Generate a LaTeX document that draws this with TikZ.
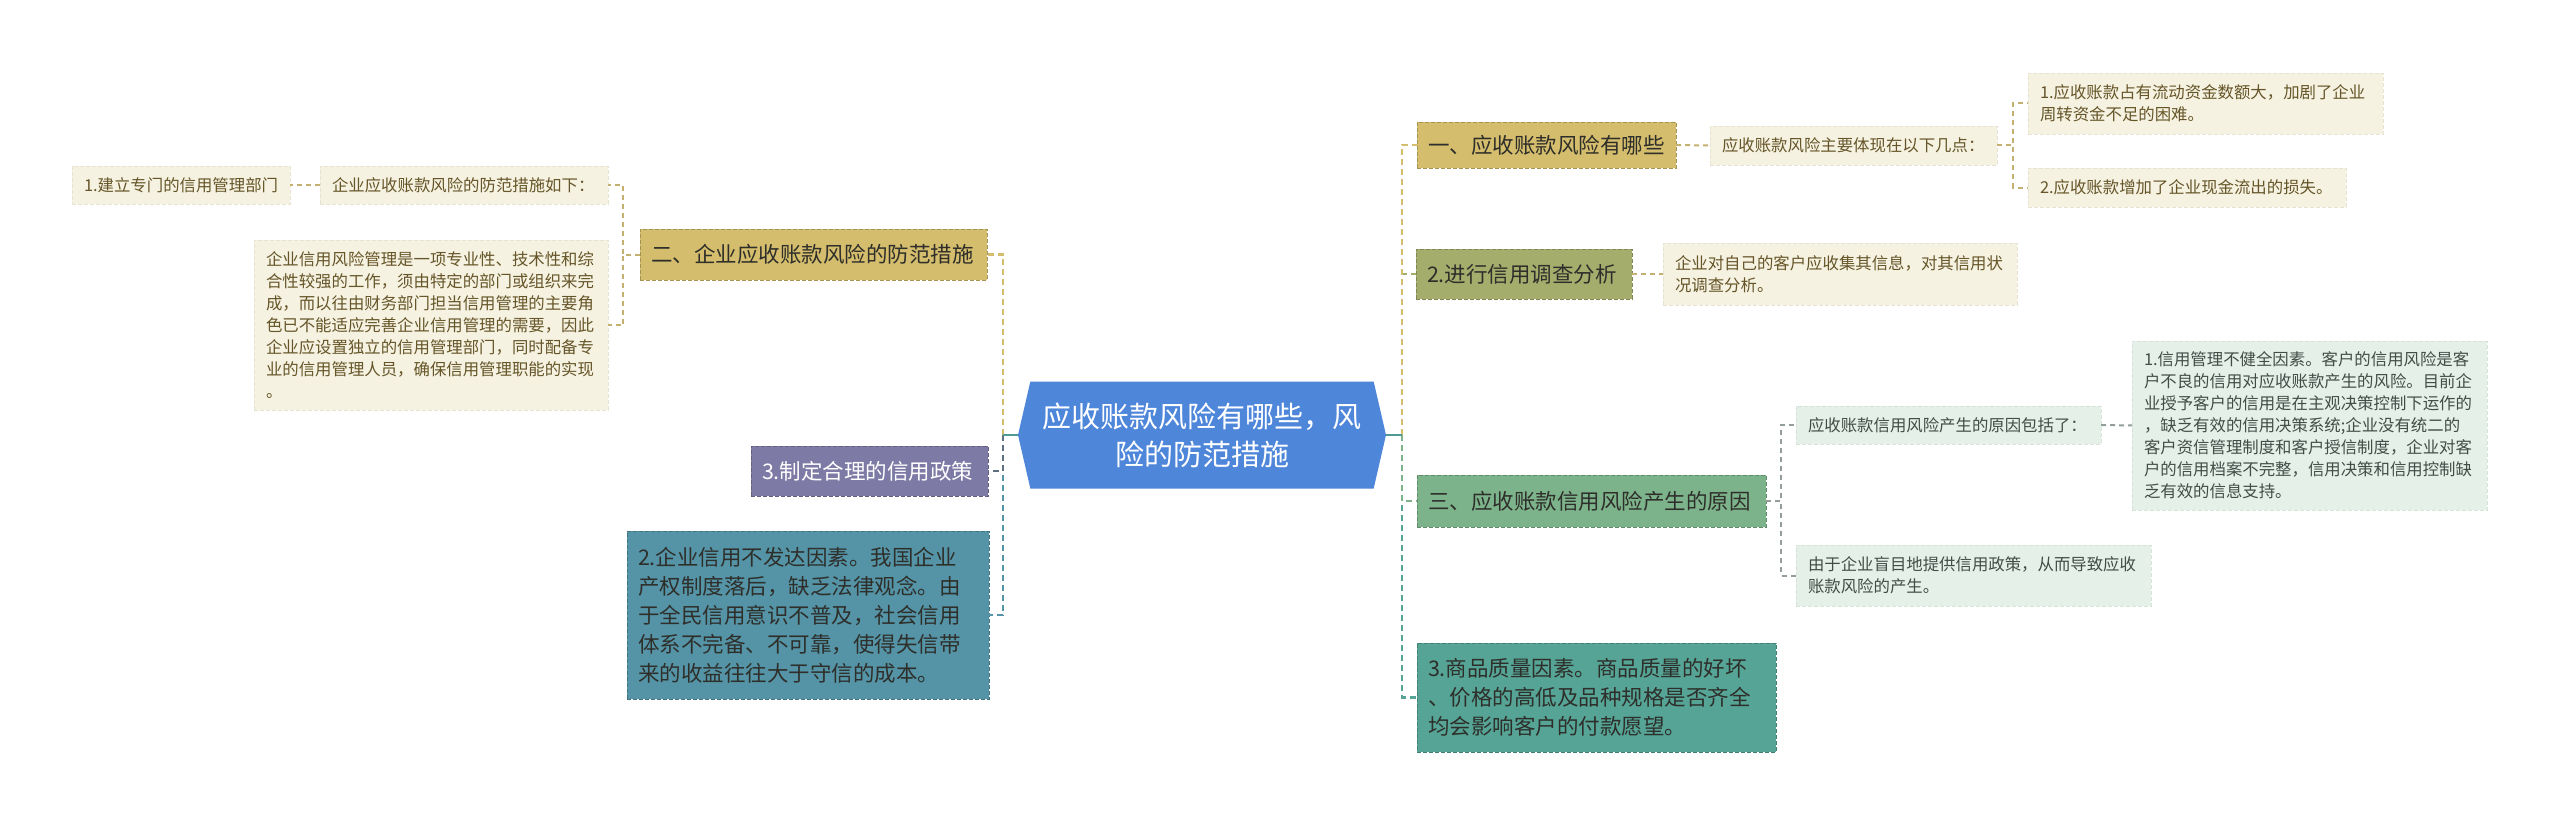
\documentclass[tikz,border=0pt]{standalone}
\usepackage{fontspec}
\setmainfont{Noto Sans CJK SC}
\usepackage{tikz}
\usetikzlibrary{positioning,calc,shapes.symbols}
\usepackage{xcolor}
\definecolor{RootBlue}{HTML}{4E86DA}
\definecolor{GoldFill}{HTML}{D4BD6C}
\definecolor{OliveFill}{HTML}{A4AD6C}
\definecolor{GreenFill}{HTML}{7DB38A}
\definecolor{TealFill}{HTML}{55A495}
\definecolor{SlateFill}{HTML}{7E7AA6}
\definecolor{SeaFill}{HTML}{5494A6}
\definecolor{Cream}{HTML}{F6F2E1}
\definecolor{Mint}{HTML}{E5F0E9}
\definecolor{TopicText}{HTML}{2E2E2A}
\definecolor{CreamText}{HTML}{655528}
\definecolor{MintText}{HTML}{404E47}
\definecolor{TrunkLine}{HTML}{4E9A94}
\definecolor{SlateLine}{HTML}{5E6F80}
\definecolor{CreamLine}{HTML}{C4B170}
\definecolor{MintLine}{HTML}{939E99}

\begin{document}
\begin{tikzpicture}[x=1pt,y=-1pt,
  every node/.style={inner ysep=0pt,outer sep=0pt},
  rootnode/.style={shape=signal,signal to=west and east,signal pointer angle=154,
    fill=RootBlue,text=white,minimum width=368pt,minimum height=107pt,
    text width=330pt,align=center,font=\fontsize{29}{38}\selectfont},
  topic/.style={fill=#1,draw=#1!78!black,dash pattern=on 4pt off 2pt,line width=0.8pt,
    inner xsep=11pt,align=left,anchor=west,text=TopicText,font=\fontsize{21.5}{29}\selectfont},
  leaf/.style={fill=#1,draw=#1!94!black,dash pattern=on 4pt off 2pt,line width=0.8pt,
    inner xsep=12pt,align=left,anchor=west,font=\fontsize{16.4}{22}\selectfont},
  link/.style={draw=#1,line width=2.6pt,dash pattern=on 6pt off 4pt},
  twig/.style={draw=#1,line width=2pt,dash pattern=on 5pt off 4pt}]
  \fill[white] (0,0) rectangle (2560,824);
  \useasboundingbox (0,0) rectangle (2560,824);

  % centre
  \node[rootnode] (root) at (1202,435) {应收账款风险有哪些，风\\险的防范措施};
  \coordinate (rjoint) at (1402,435);
  \coordinate (ljoint) at (1003,435);

  % right side topics
  \node[topic=GoldFill,text width=237pt,minimum height=46pt] (risk) at (1417,145) {一、应收账款风险有哪些};
  \node[topic=OliveFill,text width=194pt,minimum height=50pt] (survey) at (1416,274) {2.进行信用调查分析};
  \node[topic=GreenFill,text width=327pt,minimum height=52pt] (cause) at (1417,501) {三、应收账款信用风险产生的原因};
  \node[topic=TealFill,text width=337pt,minimum height=109pt] (quality) at (1417,697.5)
    {3.商品质量因素。商品质量的好坏\\、价格的高低及品种规格是否齐全\\均会影响客户的付款愿望。};

  % left side topics
  \node[topic=GoldFill,text width=325pt,minimum height=51pt] (guard) at (640,254.5) {二、企业应收账款风险的防范措施};
  \node[topic=SlateFill,text=white,text width=215pt,minimum height=50pt] (policy) at (751,471) {3.制定合理的信用政策};
  \node[topic=SeaFill,text width=340pt,minimum height=168pt] (credit) at (627,615)
    {2.企业信用不发达因素。我国企业\\产权制度落后，缺乏法律观念。由\\于全民信用意识不普及，社会信用\\体系不完备、不可靠，使得失信带\\来的收益往往大于守信的成本。};

  % leaves
  \node[leaf=Cream,text=CreamText,text width=263pt,minimum height=39pt] (riskA) at (1710,145.5) {应收账款风险主要体现在以下几点：};
  \node[leaf=Cream,text=CreamText,text width=331pt,minimum height=61pt] (riskA1) at (2028,103.5)
    {1.应收账款占有流动资金数额大，加剧了企业\\周转资金不足的困难。};
  \node[leaf=Cream,text=CreamText,text width=294pt,minimum height=39pt] (riskA2) at (2028,187.5) {2.应收账款增加了企业现金流出的损失。};
  \node[leaf=Cream,text=CreamText,text width=330pt,minimum height=62pt] (surveyA) at (1663,274)
    {企业对自己的客户应收集其信息，对其信用状\\况调查分析。};
  \node[leaf=Mint,text=MintText,text width=281pt,minimum height=38pt] (causeA) at (1796,425) {应收账款信用风险产生的原因包括了：};
  \node[leaf=Mint,text=MintText,text width=331pt,minimum height=169pt] (causeA1) at (2132,425.5)
    {1.信用管理不健全因素。客户的信用风险是客\\户不良的信用对应收账款产生的风险。目前企\\业授予客户的信用是在主观决策控制下运作的\\，缺乏有效的信用决策系统;企业没有统二的\\客户资信管理制度和客户授信制度，企业对客\\户的信用档案不完整，信用决策和信用控制缺\\乏有效的信息支持。};
  \node[leaf=Mint,text=MintText,text width=331pt,minimum height=61pt] (causeB) at (1796,575.5)
    {由于企业盲目地提供信用政策，从而导致应收\\账款风险的产生。};
  \node[leaf=Cream,text=CreamText,text width=264pt,minimum height=38pt] (guardA) at (320,185) {企业应收账款风险的防范措施如下：};
  \node[leaf=Cream,text=CreamText,text width=194pt,minimum height=38pt] (guardA1) at (72,185) {1.建立专门的信用管理部门};
  \node[leaf=Cream,text=CreamText,text width=330pt,minimum height=170pt] (guardB) at (254,325)
    {企业信用风险管理是一项专业性、技术性和综\\合性较强的工作，须由特定的部门或组织来完\\成，而以往由财务部门担当信用管理的主要角\\色已不能适应完善企业信用管理的需要，因此\\企业应设置独立的信用管理部门，同时配备专\\业的信用管理人员，确保信用管理职能的实现\\。};

  % trunk links
  \draw[link=TealFill] (rjoint) |- (quality.west);
  \draw[link=GreenFill] (rjoint) |- (cause.west);
  \draw[link=OliveFill] (rjoint) |- (survey.west);
  \draw[link=GoldFill] (rjoint) |- (risk.west);
  \draw[link=SeaFill] (ljoint) |- (credit.east);
  \draw[link=SlateLine] (ljoint) |- (policy.east);
  \draw[link=GoldFill] (ljoint) |- (guard.east);
  \draw[TrunkLine,line width=2.6pt] (root.east) -- (rjoint);
  \draw[TrunkLine,line width=2.6pt] (root.west) -- (ljoint);

  % branch links
  \draw[twig=CreamLine] (risk.east) -- (riskA.west);
  \draw[twig=CreamLine] (riskA.east) -- ++(16,0) |- (riskA1.west);
  \draw[twig=CreamLine] (riskA.east) -- ++(16,0) |- (riskA2.west);
  \draw[twig=CreamLine] (survey.east) -- (surveyA.west);
  \draw[twig=MintLine] (cause.east) -- ++(15,0) |- (causeA.west);
  \draw[twig=MintLine] (cause.east) -- ++(15,0) |- (causeB.west);
  \draw[twig=MintLine] (causeA.east) -- (causeA1.west);
  \draw[twig=CreamLine] (guard.west) -- ++(-17,0) |- (guardA.east);
  \draw[twig=CreamLine] (guard.west) -- ++(-17,0) |- (guardB.east);
  \draw[twig=CreamLine] (guardA.west) -- (guardA1.east);
\end{tikzpicture}
\end{document}
